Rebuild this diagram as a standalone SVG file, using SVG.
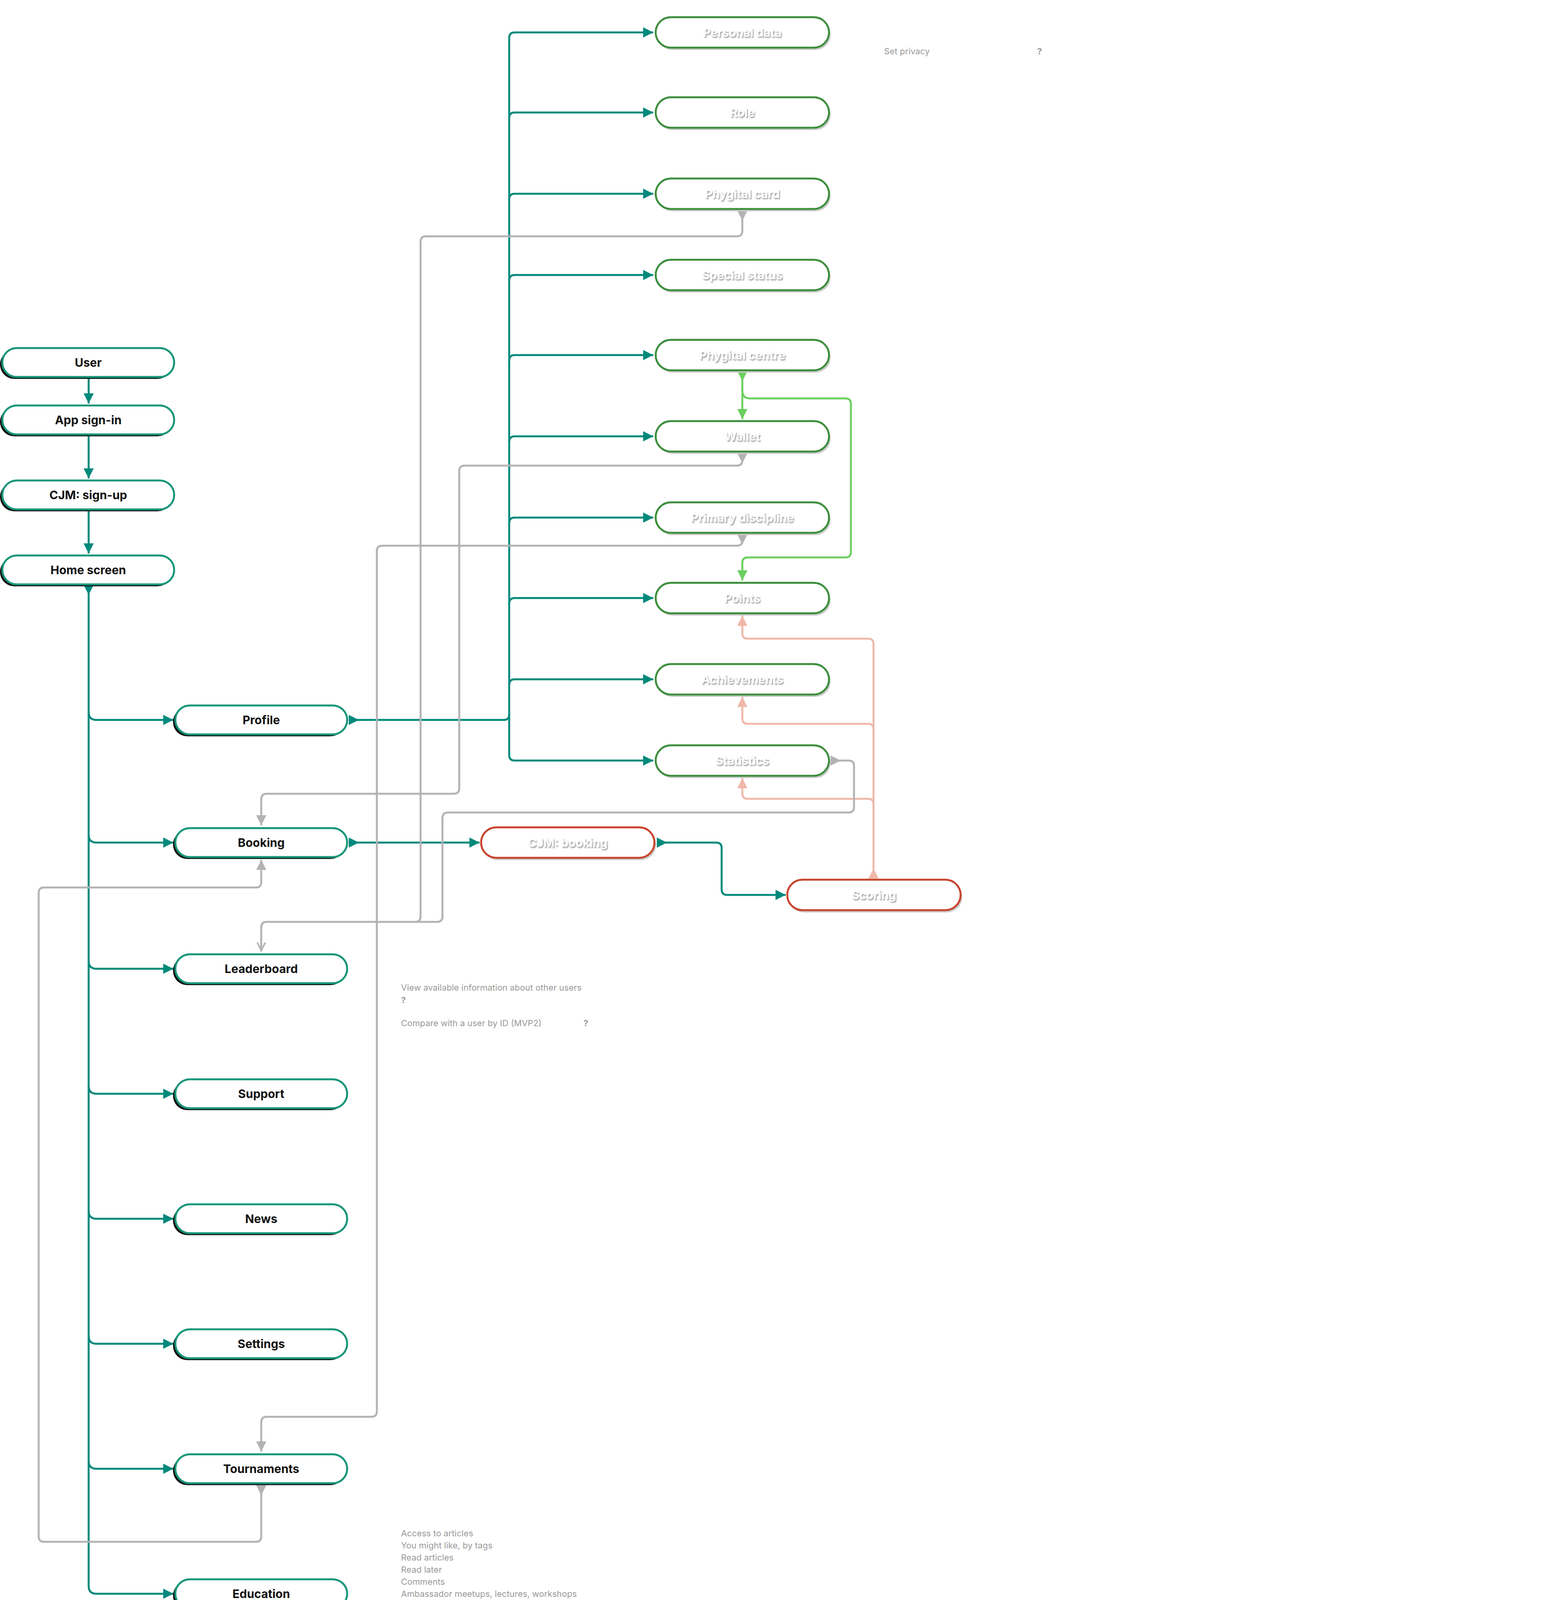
<svg xmlns="http://www.w3.org/2000/svg" width="4000" height="4158" viewBox="0 0 4000 4158">
<defs>
<style>
.n rect{fill:#fff;stroke-width:5}
.L rect.s{fill:#111;stroke:none}
.L rect.b{stroke:#17967a}
.G rect.s{fill:#ccc;stroke:none}
.G rect.b{stroke:#3d8f3d}
.R rect.s{fill:#ccc;stroke:none}
.R rect.b{stroke:#c8452f}
.lt{font-family:Inter,"Liberation Sans",sans-serif;font-weight:700;font-size:30px;fill:#111;text-anchor:middle;dominant-baseline:central}
.wt{font-family:Inter,"Liberation Sans",sans-serif;font-weight:700;font-size:30px;fill:#fff;text-anchor:middle;dominant-baseline:central;filter:url(#ts)}
.note{font-family:Inter,"Liberation Sans",sans-serif;font-size:22px;fill:#999;dominant-baseline:central}
.c path{fill:none;stroke-width:5;stroke-linejoin:round}
.t{stroke:#00897b}
.g{stroke:#b3b3b3}
.lg{stroke:#6ccf5f}
.s{stroke:#f0b8a8}
</style>
<filter id="ts" x="-10%" y="-30%" width="120%" height="160%"><feDropShadow dx="2" dy="3" stdDeviation="1.5" flood-color="#999"/></filter>
<marker id="at" viewBox="0 0 10 10" refX="10" refY="5" markerWidth="26" markerHeight="26" markerUnits="userSpaceOnUse" orient="auto"><path d="M0,0L10,5L0,10z" fill="#00897b"/></marker>
<marker id="st" viewBox="0 0 10 10" refX="0" refY="5" markerWidth="26" markerHeight="26" markerUnits="userSpaceOnUse" orient="auto"><path d="M0,0L10,5L0,10z" fill="#00897b"/></marker>
<marker id="ag" viewBox="0 0 10 10" refX="10" refY="5" markerWidth="26" markerHeight="26" markerUnits="userSpaceOnUse" orient="auto"><path d="M0,0L10,5L0,10z" fill="#b3b3b3"/></marker>
<marker id="ao" viewBox="0 0 10 10" refX="10" refY="5" markerWidth="26" markerHeight="26" markerUnits="userSpaceOnUse" orient="auto"><path d="M1,1L9,5L1,9" fill="none" stroke="#b3b3b3" stroke-width="1.5"/></marker>
<marker id="sg" viewBox="0 0 10 10" refX="0" refY="5" markerWidth="26" markerHeight="26" markerUnits="userSpaceOnUse" orient="auto"><path d="M0,0L10,5L0,10z" fill="#b3b3b3"/></marker>
<marker id="alg" viewBox="0 0 10 10" refX="10" refY="5" markerWidth="26" markerHeight="26" markerUnits="userSpaceOnUse" orient="auto"><path d="M0,0L10,5L0,10z" fill="#6ccf5f"/></marker>
<marker id="slg" viewBox="0 0 10 10" refX="0" refY="5" markerWidth="26" markerHeight="26" markerUnits="userSpaceOnUse" orient="auto"><path d="M0,0L10,5L0,10z" fill="#6ccf5f"/></marker>
<marker id="as" viewBox="0 0 10 10" refX="10" refY="5" markerWidth="26" markerHeight="26" markerUnits="userSpaceOnUse" orient="auto"><path d="M0,0L10,5L0,10z" fill="#f0b8a8"/></marker>
<marker id="ss" viewBox="0 0 10 10" refX="0" refY="5" markerWidth="26" markerHeight="26" markerUnits="userSpaceOnUse" orient="auto"><path d="M0,0L10,5L0,10z" fill="#f0b8a8"/></marker>
</defs>
<rect width="4000" height="4158" fill="#fff"/>

<g id="connectors" class="c">
<path class="t" d="M227,966V1033" marker-end="url(#at)"/>
<path class="t" d="M227,1113V1225" marker-end="url(#at)"/>
<path class="t" d="M227,1305V1417" marker-end="url(#at)"/>
<path class="t" d="M227,1497V4060q0,20 20,20H444" marker-end="url(#at)" marker-start="url(#st)"/>
<path class="t" d="M227,1823q0,20 20,20H444" marker-end="url(#at)"/>
<path class="t" d="M227,2137q0,20 20,20H444" marker-end="url(#at)"/>
<path class="t" d="M227,2460q0,20 20,20H444" marker-end="url(#at)"/>
<path class="t" d="M227,2780q0,20 20,20H444" marker-end="url(#at)"/>
<path class="t" d="M227,3100q0,20 20,20H444" marker-end="url(#at)"/>
<path class="t" d="M227,3420q0,20 20,20H444" marker-end="url(#at)"/>
<path class="t" d="M227,3740q0,20 20,20H444" marker-end="url(#at)"/>
<path class="t" d="M893,1843H1290q14,0 14,-14V97q0,-14 14,-14H1673" marker-start="url(#st)" marker-end="url(#at)"/>
<path class="t" d="M1304,302q0,-14 14,-14H1673" marker-end="url(#at)"/>
<path class="t" d="M1304,510q0,-14 14,-14H1673" marker-end="url(#at)"/>
<path class="t" d="M1304,718q0,-14 14,-14H1673" marker-end="url(#at)"/>
<path class="t" d="M1304,923q0,-14 14,-14H1673" marker-end="url(#at)"/>
<path class="t" d="M1304,1131q0,-14 14,-14H1673" marker-end="url(#at)"/>
<path class="t" d="M1304,1339q0,-14 14,-14H1673" marker-end="url(#at)"/>
<path class="t" d="M1304,1545q0,-14 14,-14H1673" marker-end="url(#at)"/>
<path class="t" d="M1304,1753q0,-14 14,-14H1673" marker-end="url(#at)"/>
<path class="t" d="M1304,1829V1933q0,14 14,14H1673" marker-end="url(#at)"/>
<path class="t" d="M893,2157H1228" marker-start="url(#st)" marker-end="url(#at)"/>
<path class="t" d="M1682,2157H1834q14,0 14,14V2277q0,14 14,14H2012" marker-start="url(#st)" marker-end="url(#at)"/>

<path class="lg" d="M1901,950V1073" marker-start="url(#slg)" marker-end="url(#alg)"/>
<path class="lg" d="M1901,1000q0,20 20,20H2165q14,0 14,14V1413q0,14 -14,14H1915q-14,0 -14,14V1486" marker-end="url(#alg)"/>

<path class="s" d="M2237,2249V1649q0,-14 -14,-14H1915q-14,0 -14,-14V1576" marker-start="url(#ss)" marker-end="url(#as)"/>
<path class="s" d="M2237,1867q0,-14 -14,-14H1915q-14,0 -14,-14V1784" marker-end="url(#as)"/>
<path class="s" d="M2237,2059q0,-14 -14,-14H1915q-14,0 -14,-14V1992" marker-end="url(#as)"/>

<path class="g" d="M1901,539V591q0,14 -14,14H1091q-14,0 -14,14V2346q0,14 -14,14H683q-14,0 -14,14V2436" marker-start="url(#sg)" marker-end="url(#ao)"/>
<path class="g" d="M1901,1160V1178q0,14 -14,14H1190q-14,0 -14,14V2018q0,14 -14,14H683q-14,0 -14,14V2113" marker-start="url(#sg)" marker-end="url(#ag)"/>
<path class="g" d="M1901,1368V1383q0,14 -14,14H979q-14,0 -14,14V3613q0,14 -14,14H683q-14,0 -14,14V3716" marker-start="url(#sg)" marker-end="url(#ag)"/>
<path class="g" d="M2127,1947H2173q14,0 14,14V2066q0,14 -14,14H1147q-14,0 -14,14V2346q0,14 -14,14H1063" marker-start="url(#sg)"/>
<path class="g" d="M669,3802V3933q0,14 -14,14H113q-14,0 -14,-14V2286q0,-14 14,-14H655q14,0 14,-14V2201" marker-start="url(#sg)" marker-end="url(#ag)"/>
</g>

<g id="user" class="n L"><rect class="s" x="0" y="896" width="440" height="74" rx="37"/><rect class="b" x="6" y="891" width="440" height="74" rx="37"/><text class="lt" x="226" y="928">User</text></g>
<g id="app-sign-in" class="n L"><rect class="s" x="0" y="1043" width="440" height="74" rx="37"/><rect class="b" x="6" y="1038" width="440" height="74" rx="37"/><text class="lt" x="226" y="1075">App sign-in</text></g>
<g id="cjm-sign-up" class="n L"><rect class="s" x="0" y="1235" width="440" height="74" rx="37"/><rect class="b" x="6" y="1230" width="440" height="74" rx="37"/><text class="lt" x="226" y="1267">CJM: sign-up</text></g>
<g id="home-screen" class="n L"><rect class="s" x="0" y="1427" width="440" height="74" rx="37"/><rect class="b" x="6" y="1422" width="440" height="74" rx="37"/><text class="lt" x="226" y="1459">Home screen</text></g>

<g id="profile" class="n L"><rect class="s" x="443" y="1811" width="440" height="74" rx="37"/><rect class="b" x="449" y="1806" width="440" height="74" rx="37"/><text class="lt" x="669" y="1843">Profile</text></g>
<g id="booking" class="n L"><rect class="s" x="443" y="2125" width="440" height="74" rx="37"/><rect class="b" x="449" y="2120" width="440" height="74" rx="37"/><text class="lt" x="669" y="2157">Booking</text></g>
<g id="leaderboard" class="n L"><rect class="s" x="443" y="2448" width="440" height="74" rx="37"/><rect class="b" x="449" y="2443" width="440" height="74" rx="37"/><text class="lt" x="669" y="2480">Leaderboard</text></g>
<g id="support" class="n L"><rect class="s" x="443" y="2768" width="440" height="74" rx="37"/><rect class="b" x="449" y="2763" width="440" height="74" rx="37"/><text class="lt" x="669" y="2800">Support</text></g>
<g id="news" class="n L"><rect class="s" x="443" y="3088" width="440" height="74" rx="37"/><rect class="b" x="449" y="3083" width="440" height="74" rx="37"/><text class="lt" x="669" y="3120">News</text></g>
<g id="settings" class="n L"><rect class="s" x="443" y="3408" width="440" height="74" rx="37"/><rect class="b" x="449" y="3403" width="440" height="74" rx="37"/><text class="lt" x="669" y="3440">Settings</text></g>
<g id="tournaments" class="n L"><rect class="s" x="443" y="3728" width="440" height="74" rx="37"/><rect class="b" x="449" y="3723" width="440" height="74" rx="37"/><text class="lt" x="669" y="3760">Tournaments</text></g>
<g id="education" class="n L"><rect class="s" x="443" y="4048" width="440" height="74" rx="37"/><rect class="b" x="449" y="4043" width="440" height="74" rx="37"/><text class="lt" x="669" y="4080">Education</text></g>

<g id="personal-data" class="n G"><rect class="s" x="1683" y="50" width="444" height="78" rx="39"/><rect class="b" x="1679" y="44" width="444" height="78" rx="39"/><text class="wt" x="1901" y="83">Personal data</text></g>
<g id="role" class="n G"><rect class="s" x="1683" y="255" width="444" height="78" rx="39"/><rect class="b" x="1679" y="249" width="444" height="78" rx="39"/><text class="wt" x="1901" y="288">Role</text></g>
<g id="phygital-card" class="n G"><rect class="s" x="1683" y="463" width="444" height="78" rx="39"/><rect class="b" x="1679" y="457" width="444" height="78" rx="39"/><text class="wt" x="1901" y="496">Phygital card</text></g>
<g id="special-status" class="n G"><rect class="s" x="1683" y="671" width="444" height="78" rx="39"/><rect class="b" x="1679" y="665" width="444" height="78" rx="39"/><text class="wt" x="1901" y="704">Special status</text></g>
<g id="phygital-centre" class="n G"><rect class="s" x="1683" y="876" width="444" height="78" rx="39"/><rect class="b" x="1679" y="870" width="444" height="78" rx="39"/><text class="wt" x="1901" y="909">Phygital centre</text></g>
<g id="wallet" class="n G"><rect class="s" x="1683" y="1084" width="444" height="78" rx="39"/><rect class="b" x="1679" y="1078" width="444" height="78" rx="39"/><text class="wt" x="1901" y="1117">Wallet</text></g>
<g id="primary-discipline" class="n G"><rect class="s" x="1683" y="1292" width="444" height="78" rx="39"/><rect class="b" x="1679" y="1286" width="444" height="78" rx="39"/><text class="wt" x="1901" y="1325">Primary discipline</text></g>
<g id="points" class="n G"><rect class="s" x="1683" y="1498" width="444" height="78" rx="39"/><rect class="b" x="1679" y="1492" width="444" height="78" rx="39"/><text class="wt" x="1901" y="1531">Points</text></g>
<g id="achievements" class="n G"><rect class="s" x="1683" y="1706" width="444" height="78" rx="39"/><rect class="b" x="1679" y="1700" width="444" height="78" rx="39"/><text class="wt" x="1901" y="1739">Achievements</text></g>
<g id="statistics" class="n G"><rect class="s" x="1683" y="1914" width="444" height="78" rx="39"/><rect class="b" x="1679" y="1908" width="444" height="78" rx="39"/><text class="wt" x="1901" y="1947">Statistics</text></g>

<g id="cjm-booking" class="n R"><rect class="s" x="1236" y="2124" width="444" height="78" rx="39"/><rect class="b" x="1232" y="2118" width="444" height="78" rx="39"/><text class="wt" x="1454" y="2157">CJM: booking</text></g>
<g id="scoring" class="n R"><rect class="s" x="2020" y="2258" width="444" height="78" rx="39"/><rect class="b" x="2016" y="2252" width="444" height="78" rx="39"/><text class="wt" x="2238" y="2291">Scoring</text></g>

<g id="notes">
<text class="note" x="2264" y="131">Set privacy</text>
<text class="note" x="2656" y="131" font-weight="700">?</text>
<text class="note" x="1027" y="2528">View available information about other users</text>
<text class="note" x="1027" y="2560" font-weight="700">?</text>
<text class="note" x="1027" y="2619">Compare with a user by ID (MVP2)</text>
<text class="note" x="1494" y="2619" font-weight="700">?</text>
<text class="note" x="1027" y="3925">Access to articles</text>
<text class="note" x="1027" y="3956">You might like, by tags</text>
<text class="note" x="1027" y="3987">Read articles</text>
<text class="note" x="1027" y="4018">Read later</text>
<text class="note" x="1027" y="4049">Comments</text>
<text class="note" x="1027" y="4080">Ambassador meetups, lectures, workshops</text>
</g>
</svg>
